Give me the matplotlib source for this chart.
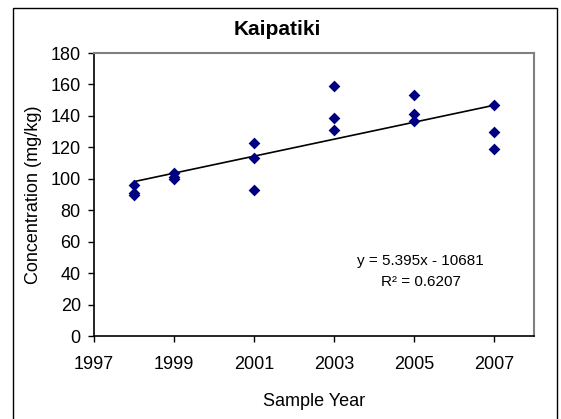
import numpy as np
import matplotlib.pyplot as plt
from matplotlib.patches import Rectangle

plt.rcParams["font.family"] = ["Liberation Sans", "DejaVu Sans"]

# data
sample_year = [1998, 1998, 1998, 1999, 1999, 1999, 2001, 2001, 2001,
               2003, 2003, 2003, 2005, 2005, 2005, 2007, 2007, 2007]
concentration = [96, 91, 90, 104, 101, 100, 123, 113, 93,
                 159, 139, 131, 153, 141, 137, 147, 130, 119]

# linear trend as printed on the chart
slope = 5.395
intercept = -10681
r_squared = 0.6207

x_ticks = [1997, 1999, 2001, 2003, 2005, 2007]
y_ticks = [0, 20, 40, 60, 80, 100, 120, 140, 160, 180]


def main():
    fig = plt.figure(figsize=(5.61, 4.19), dpi=100)
    ax = fig.add_axes([0.1676, 0.198, 0.784, 0.6754])

    ax.scatter(sample_year, concentration, marker="D", s=36,
               color="#000080", zorder=3, linewidths=0)

    xt = np.array([min(sample_year), max(sample_year)])
    ax.plot(xt, slope * xt + intercept, color="black", lw=1.2, zorder=2)

    ax.set_xlim(1997, 2008)
    ax.set_ylim(0, 180)
    ax.set_xticks(x_ticks)
    ax.set_yticks(y_ticks)
    ax.tick_params(labelsize=13, direction="out", length=4.5, width=1,
                   color="black")
    ax.tick_params(axis="x", pad=10)
    ax.tick_params(axis="y", pad=5)

    for side in ("left", "bottom"):
        ax.spines[side].set_color("black")
        ax.spines[side].set_linewidth(1.2)
    for side in ("top", "right"):
        ax.spines[side].set_color("#808080")
        ax.spines[side].set_linewidth(1.5)

    ax.set_xlabel("Sample Year", fontsize=13)
    ax.set_ylabel("Concentration (mg/kg)", fontsize=13)
    ax.xaxis.set_label_coords(0.5, -0.2)
    ax.yaxis.set_label_coords(-0.118, 0.5)

    ax.text(0.743, 0.251, f"y = {slope}x - {abs(intercept)}",
            transform=ax.transAxes, ha="center", va="baseline", fontsize=11)
    ax.text(0.743, 0.177, f"R\u00b2 = {r_squared}",
            transform=ax.transAxes, ha="center", va="baseline", fontsize=11)

    fig.text(0.494, 0.9165, "Kaipatiki", ha="center", va="baseline",
             fontsize=15, fontweight="bold")

    fig.patches.append(Rectangle((0.0232, -0.01), 0.9697, 0.991,
                                 transform=fig.transFigure, fill=False,
                                 edgecolor="black", lw=1.0))

    fig.savefig("out.png", dpi=100)
    plt.close(fig)


if __name__ == "__main__":
    main()
